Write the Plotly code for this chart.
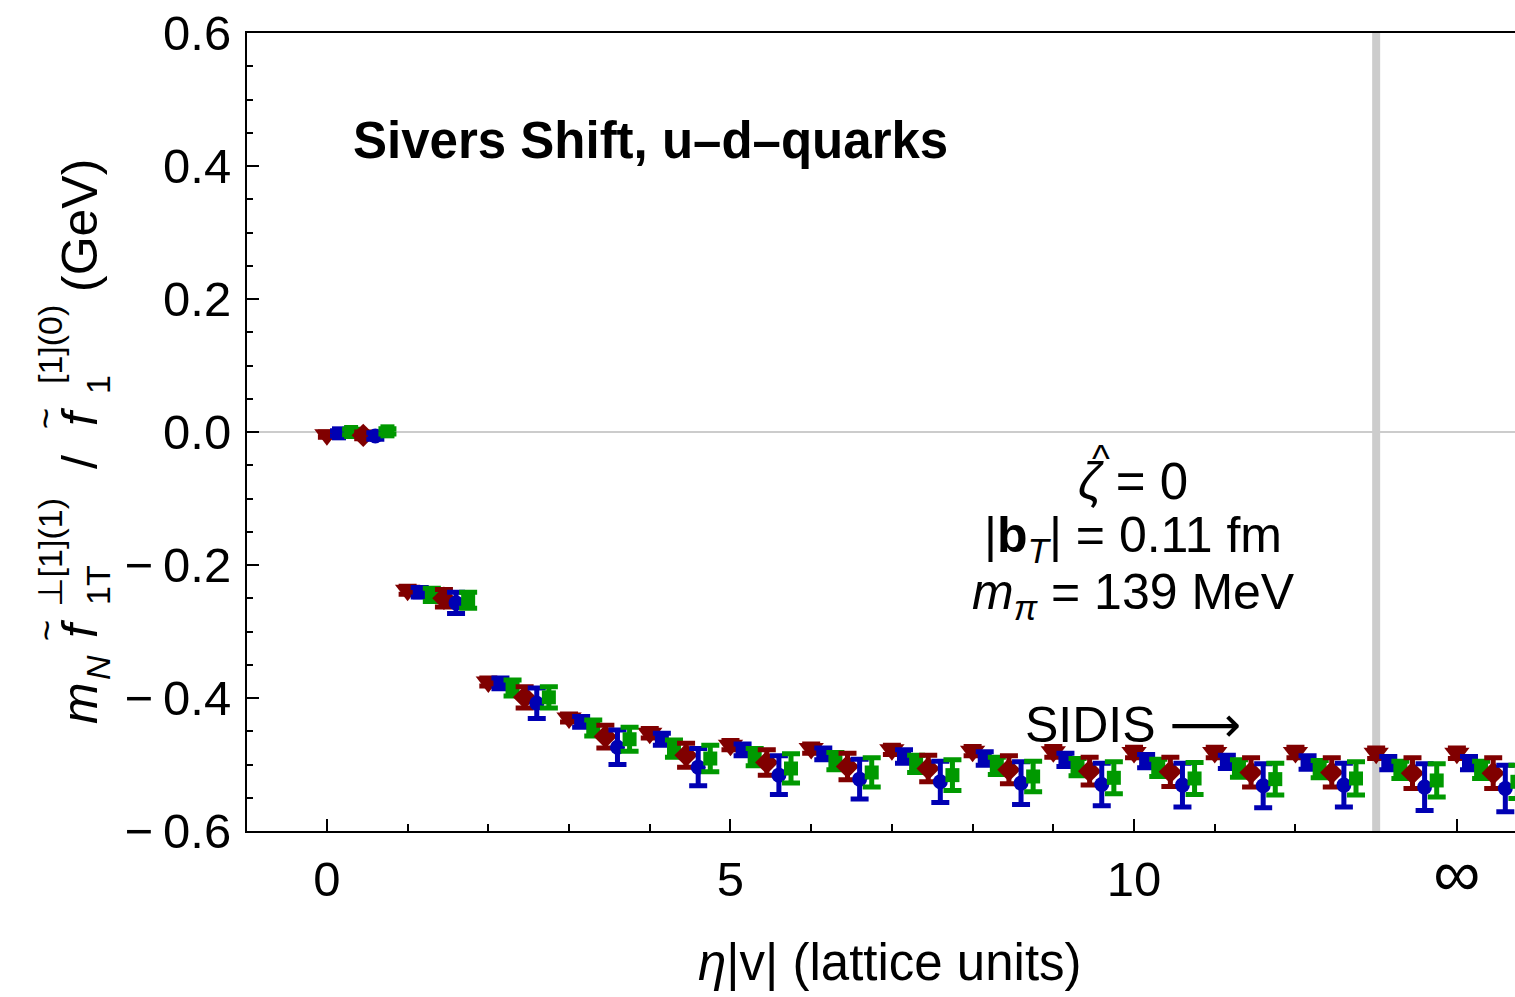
import plotly.graph_objects as go

# eta|v| separation index; the last cluster stands for eta|v| -> infinity
eta = list(range(15))

# Sivers shift (GeV), u-d quarks, six ensembles/estimators per eta|v|
tri_red = [-0.004, -0.238, -0.376, -0.430, -0.453, -0.471, -0.476, -0.478, -0.480, -0.481, -0.482, -0.482, -0.482, -0.483, -0.483]
tri_red_err = [0.004, 0.006, 0.006, 0.006, 0.007, 0.007, 0.007, 0.007, 0.007, 0.008, 0.008, 0.008, 0.008, 0.008, 0.008]

sq_blue = [-0.002, -0.241, -0.378, -0.436, -0.462, -0.478, -0.484, -0.488, -0.491, -0.493, -0.495, -0.496, -0.497, -0.498, -0.498]
sq_blue_err = [0.004, 0.007, 0.008, 0.008, 0.009, 0.009, 0.009, 0.010, 0.010, 0.010, 0.010, 0.010, 0.010, 0.010, 0.010]

sq_green = [0.000, -0.245, -0.385, -0.445, -0.476, -0.489, -0.495, -0.499, -0.502, -0.504, -0.505, -0.506, -0.507, -0.508, -0.508]
sq_green_err = [0.004, 0.010, 0.012, 0.012, 0.013, 0.013, 0.013, 0.013, 0.013, 0.013, 0.013, 0.013, 0.013, 0.013, 0.013]

dia_red = [-0.005, -0.250, -0.399, -0.458, -0.486, -0.497, -0.503, -0.506, -0.508, -0.510, -0.511, -0.512, -0.512, -0.513, -0.513]
dia_red_err = [0.005, 0.013, 0.016, 0.017, 0.018, 0.019, 0.020, 0.020, 0.021, 0.021, 0.022, 0.022, 0.022, 0.023, 0.023]

circ_blue = [-0.006, -0.257, -0.408, -0.474, -0.504, -0.516, -0.522, -0.526, -0.528, -0.530, -0.531, -0.532, -0.531, -0.534, -0.536]
circ_blue_err = [0.005, 0.016, 0.023, 0.026, 0.028, 0.029, 0.030, 0.031, 0.032, 0.032, 0.033, 0.033, 0.033, 0.035, 0.035]

sq2_green = [0.001, -0.253, -0.399, -0.462, -0.491, -0.506, -0.512, -0.516, -0.518, -0.520, -0.521, -0.522, -0.521, -0.524, -0.526]
sq2_green_err = [0.004, 0.012, 0.016, 0.018, 0.020, 0.022, 0.022, 0.023, 0.023, 0.024, 0.024, 0.024, 0.025, 0.025, 0.025]

x_tick_vals = [0, 5, 10, 14]
x_tick_text = ["0", "5", "10", "<span style='font-size:66px'>\u221e</span>"]
y_tick_vals = [0.6, 0.4, 0.2, 0.0, -0.2, -0.4, -0.6]
y_tick_text = ["0.6", "0.4", "0.2", "0.0", "\u2212\u20090.2", "\u2212\u20090.4", "\u2212\u20090.6"]

DARK_RED = "rgb(128,0,0)"
BLUE = "rgb(0,0,179)"
GREEN = "rgb(0,153,0)"

# (values, errors, colour, marker symbol, marker size, x shift within a cluster)
series = [
    (tri_red, tri_red_err, DARK_RED, "triangle-down", 22, 0.00),
    (sq_blue, sq_blue_err, BLUE, "square", 14, 0.15),
    (sq_green, sq_green_err, GREEN, "square", 14, 0.30),
    (dia_red, dia_red_err, DARK_RED, "diamond", 18, 0.45),
    (circ_blue, circ_blue_err, BLUE, "circle", 15, 0.60),
    (sq2_green, sq2_green_err, GREEN, "square", 14, 0.75),
]

FONT = "Liberation Sans, Arial, DejaVu Sans, sans-serif"

fig = go.Figure()
for vals, errs, col, sym, size, shift in series:
    fig.add_trace(go.Scatter(
        x=[e + shift for e in eta], y=vals, mode="markers",
        marker=dict(symbol=sym, size=size, color=col, line=dict(width=0)),
        error_y=dict(type="data", array=errs, visible=True, color=col, thickness=5, width=9),
        showlegend=False, cliponaxis=True,
    ))

# plot geometry in pixels, used to place free text outside the axes
W, H = 1515, 997
ML, MT, MR, MB = 247, 33, 0, 166
PW, PH = W - ML - MR, H - MT - MB


def at(px, py):
    return (px - ML) / PW, (H - MB - py) / PH


def label(px, py, text, size, angle=0, **kw):
    x, y = at(px, py)
    fig.add_annotation(x=x, y=y, xref="paper", yref="paper", text=text, showarrow=False,
                       textangle=angle, xanchor="center", yanchor="middle",
                       font=dict(family=FONT, size=size, color="black"), **kw)


# reference lines: zero level and the SIDIS limit boundary
fig.add_shape(type="line", xref="paper", yref="y", x0=0, x1=1, y0=0, y1=0,
              line=dict(color="rgb(204,204,204)", width=2), layer="below")
fig.add_shape(type="line", xref="x", yref="paper", x0=13, x1=13, y0=0, y1=1,
              line=dict(color="rgb(204,204,204)", width=8), layer="below")

label(650, 140, "<b>Sivers Shift, u\u2013d\u2013quarks</b>", 51)
label(1133, 481, "<i>\u03b6</i> = 0", 51)
label(1101, 459, "^", 38)
label(1133, 538, "|<b>b</b><sub><i>T</i></sub>| = 0.11 fm", 50)
label(1133, 595, "<i>m</i><sub><i>\u03c0</i></sub> = 139 MeV", 50)
label(1133, 725, "SIDIS \u27f6", 50)

# x-axis title
label(890, 963, "<i>\u03b7</i>|v| (lattice units)", 51)

# y-axis title, assembled piece by piece so scripts stack like in print
label(80, 703, "<i>m</i>", 50, -90)
label(98, 668, "<i>N</i>", 34, -90)
label(80, 628, "<i>f</i>", 50, -90)
label(46, 630, "~", 36, -90)
label(50, 553, "\u22a5[1](1)", 34, -90)
label(98, 585, "1T", 34, -90)
label(80, 462, "/", 50, -90)
label(80, 416, "<i>f</i>", 50, -90)
label(46, 418, "~", 36, -90)
label(50, 345, "[1](0)", 34, -90)
label(98, 385, "1", 34, -90)
label(80, 225, "(GeV)", 50, -90)

fig.update_layout(
    width=W, height=H,
    margin=dict(l=ML, r=MR, t=MT, b=MB, pad=0),
    paper_bgcolor="white", plot_bgcolor="white",
    font=dict(family=FONT, size=49, color="black"),
    xaxis=dict(
        range=[-0.99, 14.72], showgrid=False, zeroline=False,
        showline=True, linecolor="black", linewidth=2, mirror=True,
        ticks="inside", ticklen=12, tickwidth=2, tickcolor="black",
        tickmode="array", tickvals=x_tick_vals, ticktext=x_tick_text,
        ticklabelstandoff=4, tickfont=dict(size=49),
        minor=dict(tickmode="array", tickvals=[1, 2, 3, 4, 6, 7, 8, 9, 11, 12],
                   ticks="inside", ticklen=7, tickwidth=2, tickcolor="black"),
    ),
    yaxis=dict(
        range=[-0.6, 0.6], showgrid=False, zeroline=False,
        showline=True, linecolor="black", linewidth=2, mirror=False,
        ticks="inside", ticklen=12, tickwidth=2, tickcolor="black",
        tickmode="array", tickvals=y_tick_vals, ticktext=y_tick_text,
        ticklabelstandoff=4, tickfont=dict(size=49),
        minor=dict(tickmode="linear", tick0=-0.6, dtick=0.05,
                   ticks="inside", ticklen=6, tickwidth=2, tickcolor="black"),
    ),
)

fig.write_html("out.html")
